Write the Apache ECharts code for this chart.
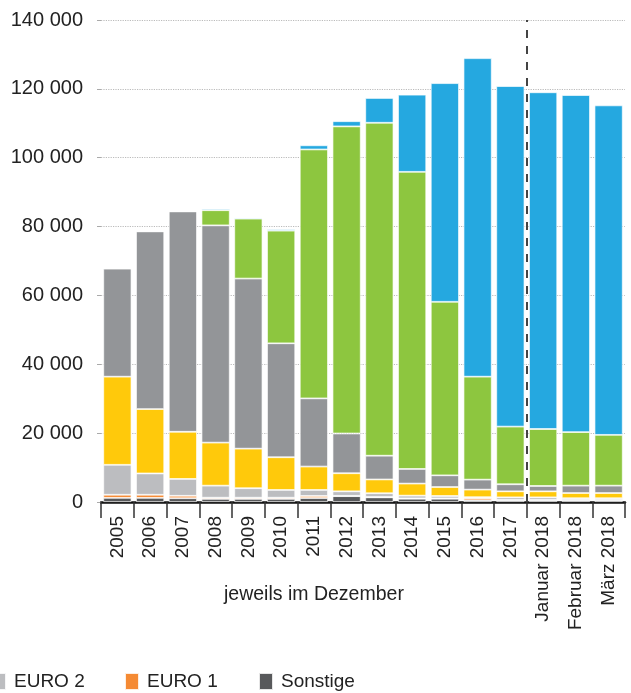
<!DOCTYPE html>
<html>
<head>
<meta charset="utf-8">
<script src="https://cdn.jsdelivr.net/npm/echarts@6/dist/echarts.min.js"></script>
<style>html,body{margin:0;padding:0;background:#fff;}#c{width:631px;height:693px;}</style>
</head>
<body>
<div id="c"></div>
<script>
var categories = ['2005','2006','2007','2008','2009','2010','2011','2012','2013','2014','2015','2016','2017','Januar 2018','Februar 2018','März 2018'];
var sonstige = [1200,1200,1100,900,900,900,1150,1700,1350,950,950,500,500,500,500,500];
var euro1 = [900,900,700,350,350,350,600,100,100,100,100,600,100,100,100,100];
var euro2 = [8700,6200,4900,3500,2750,2250,1750,1300,1100,800,700,300,750,750,500,500];
var euro3 = [25600,18700,13700,12500,11500,9500,6800,5250,4000,3500,2600,2200,1750,1750,1500,1500];
var euro4 = [31400,51600,64000,63100,49400,33100,19800,11550,6900,4250,3400,2900,2050,1550,2150,2150];
var euro5 = [0,0,0,4400,17400,32700,72300,89200,96700,86300,50400,29900,16750,16550,15550,14750];
var euro6 = [0,0,0,400,300,400,1200,1500,7200,22400,63500,92500,98900,97800,97900,95700];
var dividerAt = 13;
var xNote = 'jeweils im Dezember';
var legendItems = ['EURO 2','EURO 1','Sonstige'];

var FONT = "'Liberation Sans', Arial, sans-serif";
var chart = echarts.init(document.getElementById('c'));
function bar(name, data, color) {
  return {
    name: name, type: 'bar', stack: 'all', data: data, barWidth: '86%',
    itemStyle: {color: color, borderColor: 'rgba(255,255,255,0.85)', borderWidth: 0.8},
    emphasis: {disabled: true}
  };
}
var legendLefts = [-9, 124, 258];
var legends = legendItems.map(function (n, i) {
  return {
    data: [n], left: legendLefts[i], top: 672, padding: 0,
    itemWidth: 14, itemHeight: 17, itemGap: 0, icon: 'rect',
    textStyle: {fontFamily: FONT, fontSize: 19, color: '#222', padding: [0, 0, 0, 3]},
    selectedMode: false
  };
});
chart.setOption({
  animation: false,
  grid: {left: 101, right: 6, top: 20, bottom: 191, containLabel: false},
  legend: legends,
  xAxis: [{
    type: 'category', data: categories, offset: 4,
    axisLine: {lineStyle: {color: '#111', width: 2.5}},
    axisTick: {show: true, length: 16, lineStyle: {color: '#333', width: 1.5}},
    axisLabel: {rotate: 90, fontFamily: FONT, fontSize: 19, color: '#222', margin: 10, interval: 0}
  }, {
    type: 'value', min: 0, max: categories.length, show: false
  }],
  yAxis: {
    type: 'value', min: 0, max: 140000, interval: 20000,
    axisLine: {show: false},
    axisTick: {show: true, length: 4, lineStyle: {color: '#aaa'}},
    splitLine: {lineStyle: {type: 'dotted', color: '#bbb', width: 1.2}},
    axisLabel: {fontFamily: FONT, fontSize: 20, color: '#222', margin: 18,
      formatter: function (v) { return v === 0 ? '0' : String(v).replace(/\B(?=(\d{3})+(?!\d))/g, ' '); }}
  },
  graphic: [{
    type: 'text', left: 224, top: 585,
    style: {text: xNote, font: '19.5px ' + FONT, fill: '#222'}
  }],
  series: [
    bar('Sonstige', sonstige, '#58595b'),
    bar('EURO 1', euro1, '#f58a33'),
    bar('EURO 2', euro2, '#bcbdc0'),
    bar('EURO 3', euro3, '#ffc90b'),
    bar('EURO 4', euro4, '#939598'),
    bar('EURO 5', euro5, '#8dc63f'),
    bar('EURO 6', euro6, '#25a8e0'),
    {
      type: 'line', xAxisIndex: 1, data: [], silent: true,
      markLine: {
        silent: true, symbol: 'none', label: {show: false},
        lineStyle: {type: [8, 8], color: '#444', width: 2},
        data: [{xAxis: dividerAt}]
      }
    }
  ]
});
</script>
</body>
</html>
